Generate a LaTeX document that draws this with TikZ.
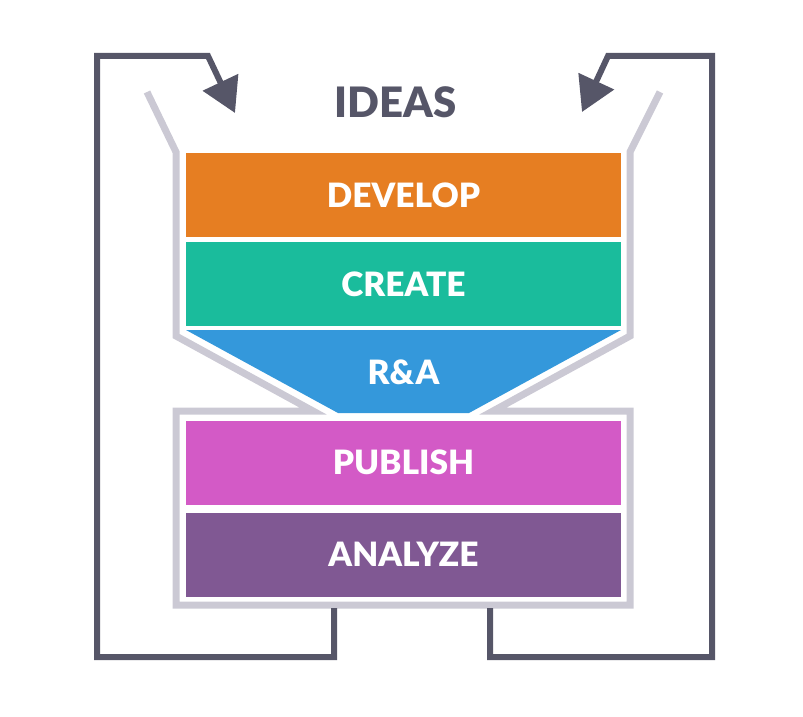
\documentclass[tikz,border=0pt]{standalone}
\usepackage{fontspec}
\setmainfont{Lato}[BoldFont={Lato Black}]
\usetikzlibrary{arrows.meta, positioning}
\definecolor{OR}{RGB}{230,126,34}
\definecolor{TE}{RGB}{26,188,156}
\definecolor{BL}{RGB}{52,152,219}
\definecolor{MG}{RGB}{211,90,198}
\definecolor{PU}{RGB}{128,88,147}
\definecolor{FG}{RGB}{203,201,212}
\definecolor{DG}{RGB}{86,86,104}

\begin{document}
\begin{tikzpicture}[x=1pt, y=-1pt,
  box/.style={fill=#1, minimum width=435pt, minimum height=84pt,
              inner sep=0pt, text=white,
              font=\fontsize{33.5}{40}\selectfont\bfseries},
  lbl/.style={inner sep=0pt, text=white,
              font=\fontsize{33.5}{40}\selectfont\bfseries},
  funnel/.style={draw=FG, line width=7pt},
  loop/.style={draw=DG, line width=6pt,
               -{Triangle[length=34pt,width=38pt]}}
]
\useasboundingbox (0,0) rectangle (803,717);

\draw[funnel] (147,92) -- (176,152) -- (176,336) -- (313,411) -- (176,411)
  -- (176,605) -- (630,605) -- (630,411) -- (493,411) -- (630,336)
  -- (630,152) -- (660,92);

\node[box=OR] (develop) at (403.5,195)   {DEVELOP};
\node[box=TE] (create)  at (403.5,284)   {CREATE};
\fill[BL] (186,330) -- (621,330) -- (469,413) -- (338,413) -- cycle;
\node[lbl]    (ra)      at (403.5,372)   {R\&A};
\node[box=MG] (publish) at (403.5,462.5) {PUBLISH};
\node[box=PU] (analyze) at (403.5,554.5) {ANALYZE};

\node[inner sep=0pt, text=DG, font=\fontsize{41.9}{48}\selectfont\bfseries]
  (ideas) at (395.5,102) {IDEAS};

\coordinate (outL) at (334,608);
\coordinate (outR) at (490,608);
\coordinate (inL)  at (235,113);
\coordinate (inR)  at (582,112);

\draw[loop] (outL) -- (334,657) -- (97,657) -- (97,56) -- (208,56) -- (inL);
\draw[loop] (outR) -- (490,657) -- (712,657) -- (712,56) -- (608,56) -- (inR);
\end{tikzpicture}
\end{document}
